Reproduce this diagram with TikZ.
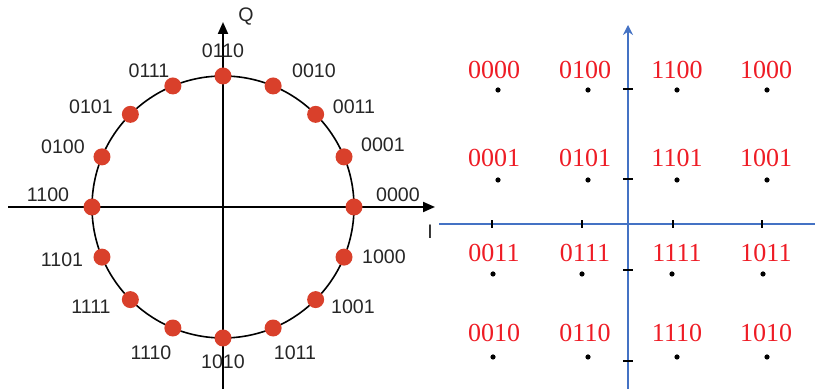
\documentclass[tikz,border=0pt]{standalone}
\usepackage{fontspec}
\setmainfont{Liberation Sans}
\newfontfamily\bitfont{Liberation Serif}
\usetikzlibrary{arrows.meta,positioning,calc}
\definecolor{dotred}{HTML}{D9402B}
\definecolor{bitred}{HTML}{EE1C25}
\definecolor{axblue}{HTML}{4472C4}

\begin{document}
\begin{tikzpicture}[x=0.5pt,y=0.5pt,
psk/.style={circle,fill=dotred,inner sep=0pt,minimum size=8.5pt},
pskbits/.style={font=\fontsize{9.8}{11}\selectfont,inner sep=0pt,text=black!85},
qam/.style={circle,fill=black,inner sep=0pt,minimum size=2.6pt},
qambits/.style={text=bitred,font=\bitfont\fontsize{13}{15}\selectfont,inner sep=0pt},
iqaxis/.style={-{Triangle[length=6pt,width=5pt]},line width=1pt},
bluaxis/.style={line width=1pt,axblue},
qtick/.style={line width=0.9pt}]
\useasboundingbox (0,0) rectangle (815,389);
% 16-PSK on the circle
\coordinate (o) at (223,182);
\coordinate (iw) at (8,182);
\coordinate (ie) at (435,182);
\coordinate (qs) at (223,0);
\coordinate (qn) at (223,367);
\draw[iqaxis] (iw) -- (ie);
\draw[iqaxis] (qs) -- (qn);
\node[pskbits] (qlab) at (246,372) {Q};
\node[pskbits] (ilab) at (430,157) {I};
\draw[line width=0.8pt] (o) circle[radius=131];
\foreach \a/\b/\lx/\ly in {0/0000/398/194,22.5/0001/383/244,45/0011/354/282,67.5/0010/314/318,
  90/0110/223/338,112.5/0111/149/318,135/0101/91/282,157.5/0100/63/242,
  180/1100/48/194,202.5/1101/62/129,225/1111/91/82,247.5/1110/151/36,
  270/1010/223/27,292.5/1011/295/36,315/1001/353/82,337.5/1000/384/132}{
  \node[psk] (c\b) at ($(o)+(\a:131)$) {};
  \node[pskbits] (l\b) at (\lx,\ly) {\b};
}
% 16-QAM grid
\coordinate (gw) at (439,165);
\coordinate (ge) at (815,165);
\coordinate (gs) at (628,0);
\coordinate (gn) at (628,364);
\draw[bluaxis] (gw) -- (ge);
\draw[bluaxis,-{Stealth[length=5pt,width=5pt]}] (gs) -- (gn);
\foreach \x in {492,582,673,762} \draw[qtick] (\x,161) -- (\x,169);
\foreach \y in {300,210,119,28} \draw[qtick] (623,\y) -- (633,\y);
\foreach \dx/\dy/\lx/\ly/\b in {498/299/494/319/0000,588/299/585/319/0100,677/299/677/319/1100,767/299/766/319/1000,
  498/209/494/231/0001,588/209/585/231/0101,677/209/677/231/1101,767/209/766/231/1001,
  493/115/494/136/0011,582/115/585/136/0111,672/115/677/136/1111,763/115/766/136/1011,
  493/32/494/56/0010,588/32/585/56/0110,677/32/677/56/1110,767/32/766/56/1010}{
  \node[qam] (m\b) at (\dx,\dy) {};
  \node[qambits] (ml\b) at (\lx,\ly) {\b};
}
\end{tikzpicture}
\end{document}
